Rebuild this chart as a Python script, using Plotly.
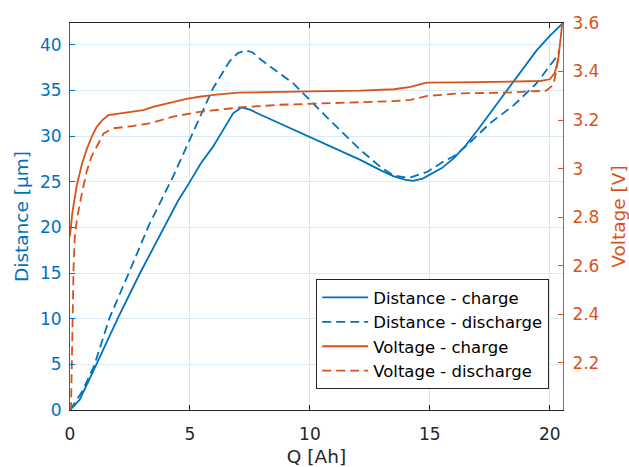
import plotly.graph_objects as go

# Charge/discharge measurements: capacity Q [Ah], distance [µm], voltage [V]
q_dist_chg = [0, 0.4, 1.1, 2.0, 2.9, 3.75, 4.5, 4.95, 5.45, 5.95, 6.4, 6.8, 7.15, 7.5, 7.9,
              8.75, 10.0, 11.0, 12.1, 13.0, 13.5, 14.0, 14.3, 14.7, 15.0, 15.5, 16.0, 16.5,
              17.0, 17.5, 18.5, 19.45, 20.0, 20.55]
dist_chg = [0, 1.1, 5.0, 10.1, 14.9, 19.2, 22.9, 24.8, 27.0, 28.8, 30.8, 32.5, 33.15, 32.9, 32.4,
            31.4, 29.9, 28.7, 27.4, 26.2, 25.6, 25.2, 25.1, 25.35, 25.8, 26.5, 27.6, 29.0,
            30.7, 32.5, 36.1, 39.4, 41.0, 42.4]

q_dist_dis = [0, 0.5, 1.0, 1.65, 2.45, 3.3, 4.3, 5.15, 5.95, 6.65, 7.0, 7.3, 7.6, 7.95, 8.75,
              9.3, 10.7, 12.1, 13.0, 13.5, 13.9, 14.2, 14.9, 15.55, 16.0, 16.55, 17.5, 18.5,
              19.45, 20.0, 20.4]
dist_dis = [0, 2.0, 4.8, 10.1, 15.0, 20.3, 25.6, 30.6, 35.2, 38.2, 39.1, 39.4, 39.2, 38.4, 36.9,
            35.8, 32.1, 28.5, 26.5, 25.7, 25.5, 25.5, 26.1, 27.2, 27.8, 29.0, 31.4, 33.4,
            35.8, 37.7, 39.1]

q_volt_chg = [0, 0.1, 0.28, 0.5, 0.7, 0.9, 1.1, 1.35, 1.6, 2.0, 2.4, 3.05, 3.5, 4.0, 4.85, 5.4,
              6.0, 7.0, 8.75, 10.0, 12.1, 13.5, 14.2, 14.85, 16.25, 18.2, 19.6, 20.0, 20.2,
              20.35, 20.45, 20.52]
volt_chg = [2.72, 2.82, 2.93, 3.02, 3.08, 3.13, 3.17, 3.2, 3.22, 3.226, 3.229, 3.241, 3.255,
            3.268, 3.287, 3.296, 3.304, 3.313, 3.317, 3.318, 3.321, 3.327, 3.337, 3.354, 3.355,
            3.357, 3.361, 3.368, 3.393, 3.447, 3.53, 3.6]

q_volt_dis = [0.04, 0.08, 0.11, 0.15, 0.2, 0.3, 0.5, 0.7, 0.9, 1.15, 1.4, 1.8, 2.6, 3.3, 3.8,
              4.3, 5.4, 6.0, 7.1, 8.75, 10.7, 13.5, 14.2, 14.85, 16.25, 18.2, 19.85, 20.14,
              20.28, 20.35, 20.38]
volt_dis = [2.0, 2.3, 2.5, 2.6, 2.72, 2.8, 2.9, 2.99, 3.05, 3.1, 3.145, 3.166, 3.175, 3.186,
            3.2, 3.214, 3.234, 3.24, 3.252, 3.263, 3.269, 3.278, 3.283, 3.299, 3.31, 3.313,
            3.321, 3.344, 3.406, 3.46, 3.49]

x_ticks = [0, 5, 10, 15, 20]
y_ticks = [0, 5, 10, 15, 20, 25, 30, 35, 40]
v_ticks = [2.2, 2.4, 2.6, 2.8, 3.0, 3.2, 3.4, 3.6]
v_tick_text = ["2.2", "2.4", "2.6", "2.8", "3", "3.2", "3.4", "3.6"]

BLUE = "#0072BD"
ORANGE = "#D95319"
DARK = "#262626"
FONT = "DejaVu Sans, Liberation Sans, Arial, sans-serif"

fig = go.Figure()
fig.add_trace(go.Scatter(x=q_dist_chg, y=dist_chg, mode="lines", name="Distance - charge",
                         line=dict(color=BLUE, width=1.8)))
fig.add_trace(go.Scatter(x=q_dist_dis, y=dist_dis, mode="lines", name="Distance - discharge",
                         line=dict(color=BLUE, width=1.8, dash="9px,5px")))
fig.add_trace(go.Scatter(x=q_volt_chg, y=volt_chg, mode="lines", name="Voltage - charge",
                         line=dict(color=ORANGE, width=1.8), yaxis="y2"))
fig.add_trace(go.Scatter(x=q_volt_dis, y=volt_dis, mode="lines", name="Voltage - discharge",
                         line=dict(color=ORANGE, width=1.8, dash="9px,5px"), yaxis="y2"))

fig.update_layout(
    width=629, height=467,
    margin=dict(l=70, r=66, t=23, b=57),
    plot_bgcolor="white", paper_bgcolor="white",
    font=dict(family=FONT, size=17, color=DARK),
    xaxis=dict(
        range=[0, 20.55], tickvals=x_ticks, ticks="inside", ticklen=5, tickcolor=DARK,
        showline=True, linecolor=DARK, linewidth=1, mirror="ticks", automargin=False,
        showgrid=True, gridcolor="#e2e2e2", gridwidth=1, zeroline=False,
        tickfont=dict(size=17, color=DARK), ticklabelstandoff=9,
        title=dict(text="Q [Ah]", font=dict(size=18.5, color=DARK), standoff=6),
    ),
    yaxis=dict(
        range=[0, 42.4], tickvals=y_ticks, ticks="inside", ticklen=5, tickcolor=BLUE,
        showline=True, linecolor=BLUE, linewidth=1, automargin=False,
        showgrid=True, gridcolor="#d9eaf5", gridwidth=1, zeroline=False,
        tickfont=dict(size=17, color=BLUE), ticklabelstandoff=4,
        title=dict(text="Distance [µm]", font=dict(size=18.5, color=BLUE), standoff=6),
    ),
    yaxis2=dict(
        range=[2.005, 3.6], tickvals=v_ticks, ticktext=v_tick_text, overlaying="y", side="right",
        ticks="inside", ticklen=5, tickcolor=ORANGE, automargin=False,
        showline=True, linecolor=ORANGE, linewidth=1,
        showgrid=False, zeroline=False,
        tickfont=dict(size=17, color=ORANGE), ticklabelstandoff=5,
        title=dict(text="Voltage [V]", font=dict(size=18.5, color=ORANGE), standoff=13),
    ),
    legend=dict(
        x=0.972, xanchor="right", y=0.054, yanchor="bottom",
        bgcolor="white", bordercolor=DARK, borderwidth=1, itemwidth=46,
        font=dict(size=16.5, color="black"), tracegroupgap=0,
    ),
)

fig.write_html("out.html")
